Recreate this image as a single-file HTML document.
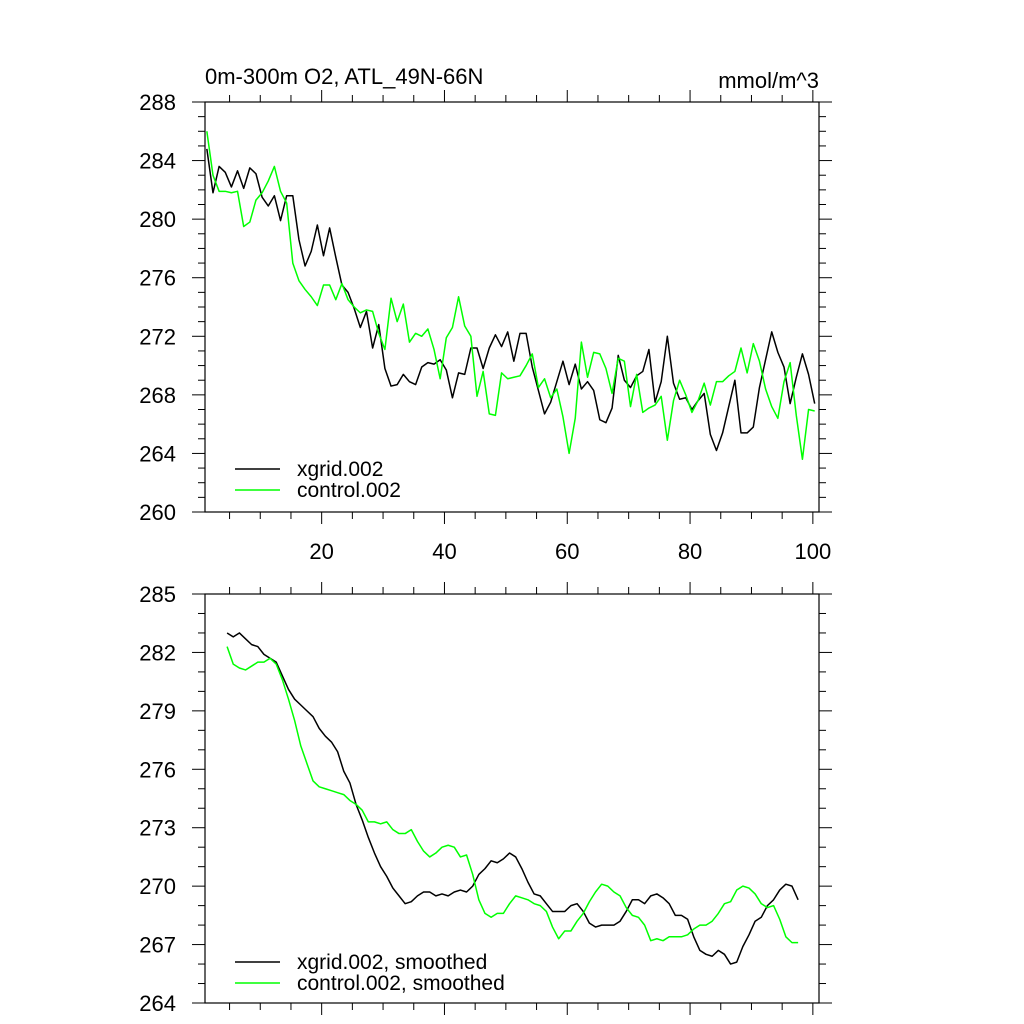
<!DOCTYPE html>
<html><head><meta charset="utf-8"><style>
html,body{margin:0;padding:0;background:#fff;}
svg{display:block;font-family:"Liberation Sans",sans-serif;}
</style></head><body>
<svg id="chart" width="1024" height="1024" viewBox="0 0 1024 1024" xmlns="http://www.w3.org/2000/svg">
<rect width="1024" height="1024" fill="#fff"/>
<text x="205" y="84" font-size="22">0m-300m O2, ATL_49N-66N</text>
<text x="819" y="88" font-size="22" text-anchor="end">mmol/m^3</text>
<g id="top"></g>
<g id="bot"></g>
</svg>
<script>
const topXgrid=[284.8,281.8,283.6,283.2,282.2,283.3,282.1,283.5,283.1,281.5,280.9,281.6,279.9,281.6,281.6,278.6,276.8,277.8,279.6,277.5,279.4,277.4,275.5,275.0,273.9,272.6,273.7,271.2,272.8,269.8,268.6,268.7,269.4,268.9,268.7,269.9,270.2,270.1,270.4,269.7,267.8,269.5,269.4,271.2,271.2,269.8,271.2,272.1,271.3,272.3,270.3,272.2,
272.2,269.9,268.3,266.7,267.5,268.9,270.3,268.7,270.1,268.4,268.9,268.3,266.3,266.1,267.1,270.7,269.0,268.5,269.3,269.6,271.1,267.5,268.9,272.0,268.8,267.7,267.8,267.0,267.6,268.1,265.3,264.2,265.4,267.2,269.0,265.4,265.4,265.8,268.5,270.4,272.3,270.9,269.9,267.4,269.2,270.8,269.4,267.4];
const topControl=[286.0,283.0,281.9,281.9,281.8,281.9,279.5,279.8,281.3,281.8,282.6,283.6,281.9,281.1,277.0,275.8,275.2,274.7,274.1,275.5,275.5,274.5,275.6,274.5,274.0,273.6,273.8,273.7,272.2,271.1,274.6,273.0,274.2,271.6,272.2,272.0,272.5,271.1,269.1,271.9,272.6,274.7,272.7,272.0,267.9,269.6,266.7,266.6,269.5,269.1,269.2,269.3,
270.0,270.8,268.5,269.1,267.8,268.4,266.5,264.0,266.4,271.6,269.2,270.9,270.8,269.8,268.1,270.5,270.3,267.2,269.4,266.8,267.1,267.3,267.9,264.9,267.6,269.0,268.0,266.8,267.6,268.8,267.3,268.9,268.9,269.3,269.6,271.2,269.5,271.5,270.3,268.4,267.2,266.4,268.9,270.2,266.6,263.6,267.0,266.9];
const topStart=1.3;
const smoothStart=4.6;
const botXgrid=[283.0,282.8,283.0,282.7,282.4,282.3,281.9,281.7,281.5,280.8,280.1,279.6,279.3,279.0,278.7,278.1,277.7,277.4,276.9,275.9,275.3,274.2,273.4,272.5,271.7,271.0,270.5,269.9,269.5,269.1,269.2,269.5,269.7,269.7,269.5,269.6,269.5,269.7,269.8,269.7,270.0,270.6,270.9,271.3,271.2,271.4,271.7,271.5,270.9,270.2,
269.6,269.5,269.1,268.7,268.7,268.7,269.0,269.1,268.7,268.1,267.9,268.0,268.0,268.0,268.2,268.7,269.3,269.3,269.1,269.5,269.6,269.4,269.1,268.5,268.5,268.3,267.4,266.7,266.5,266.4,266.7,266.5,266.0,266.1,266.9,267.5,268.2,268.4,269.0,269.3,269.8,270.1,270.0,269.3];
const botControl=[282.3,281.4,281.2,281.1,281.3,281.5,281.5,281.7,281.4,280.6,279.6,278.5,277.2,276.3,275.4,275.1,275.0,274.9,274.8,274.7,274.4,274.2,273.9,273.3,273.3,273.2,273.3,272.9,272.7,272.7,272.9,272.3,271.8,271.5,271.7,272.0,272.1,272.0,271.5,271.6,270.6,269.3,268.6,268.4,268.6,268.6,269.1,269.5,269.4,269.3,
269.1,269.0,268.7,267.9,267.3,267.7,267.7,268.2,268.6,269.2,269.7,270.1,270.0,269.7,269.5,268.9,268.5,268.4,268.0,267.2,267.3,267.2,267.4,267.4,267.4,267.5,267.8,268.0,268.0,268.2,268.6,269.1,269.2,269.8,270.0,269.9,269.6,269.1,268.9,269.0,268.3,267.4,267.1,267.1];
const topYTicks=[260,264,268,272,276,280,284,288];
const botYTicks=[264,267,270,273,276,279,282,285];
const xTickLabels=[20,40,60,80,100];
const topLegend=["xgrid.002","control.002"];
const botLegend=["xgrid.002, smoothed","control.002, smoothed"];

const NS="http://www.w3.org/2000/svg";
function mk(parent,tag,attrs){const e=document.createElementNS(NS,tag);for(const k in attrs)e.setAttribute(k,attrs[k]);parent.appendChild(e);return e;}
const L=205,R=819,XMIN=1,XMAX=101;
function xs(v){return L+(v-XMIN)/(XMAX-XMIN)*(R-L);}

function panel(g,T,B,ymin,ymax,yticks,minorStep,series,start,legend,legY,showXLabels){
  const ys=v=>B-(v-ymin)/(ymax-ymin)*(B-T);
  const fr=mk(g,'rect',{x:L,y:T,width:R-L,height:B-T,fill:'none',stroke:'#000','stroke-width':1.2});
  
  
  for(let v=ymin;v<=ymax+1e-6;v+=minorStep){
    const y=ys(v);const major=yticks.includes(Math.round(v));
    const len=major?13:7;
    mk(g,'line',{x1:L-len,y1:y,x2:L,y2:y,stroke:'#000','stroke-width':1});
    mk(g,'line',{x1:R,y1:y,x2:R+len,y2:y,stroke:'#000','stroke-width':1});
  }
  yticks.forEach(v=>{
    const t=mk(g,'text',{x:176,y:ys(v)+8,'font-size':22,'text-anchor':'end'});
    t.textContent=v;
    
    
  });
  for(let v=5;v<=XMAX;v+=5){
    const x=xs(v);const major=v%20===0;const len=major?12:7;
    mk(g,'line',{x1:x,y1:T-len,x2:x,y2:T,stroke:'#000','stroke-width':1});
    mk(g,'line',{x1:x,y1:B,x2:x,y2:B+len,stroke:'#000','stroke-width':1});
  }
  if(showXLabels){xTickLabels.forEach(v=>{
    const t=mk(g,'text',{x:xs(v),y:B+47,'font-size':22,'text-anchor':'middle'});
    t.textContent=v;
    
    
  });}
  const colors=['#000','#00ff00'];
  series.forEach((arr,si)=>{
    const pts=arr.map((v,i)=>xs(start+i).toFixed(2)+','+ys(v).toFixed(2)).join(' ');
    const p=mk(g,'polyline',{points:pts,fill:'none',stroke:colors[si],'stroke-width':1.5,'stroke-linejoin':'round'});
    
    
    const y=legY+si*21;
    const ll=mk(g,'line',{x1:235,y1:y,x2:280,y2:y,stroke:colors[si],'stroke-width':1.5});
    
    
    const lt=mk(g,'text',{x:297,y:y+7,'font-size':21});
    lt.textContent=legend[si];
    
    
  });
}
panel(document.getElementById('top'),102,512,260,288,topYTicks,1,[topXgrid,topControl],topStart,topLegend,469,true);
panel(document.getElementById('bot'),594,1003,264,285,botYTicks,1,[botXgrid,botControl],smoothStart,botLegend,962,false);
</script>
</body></html>
